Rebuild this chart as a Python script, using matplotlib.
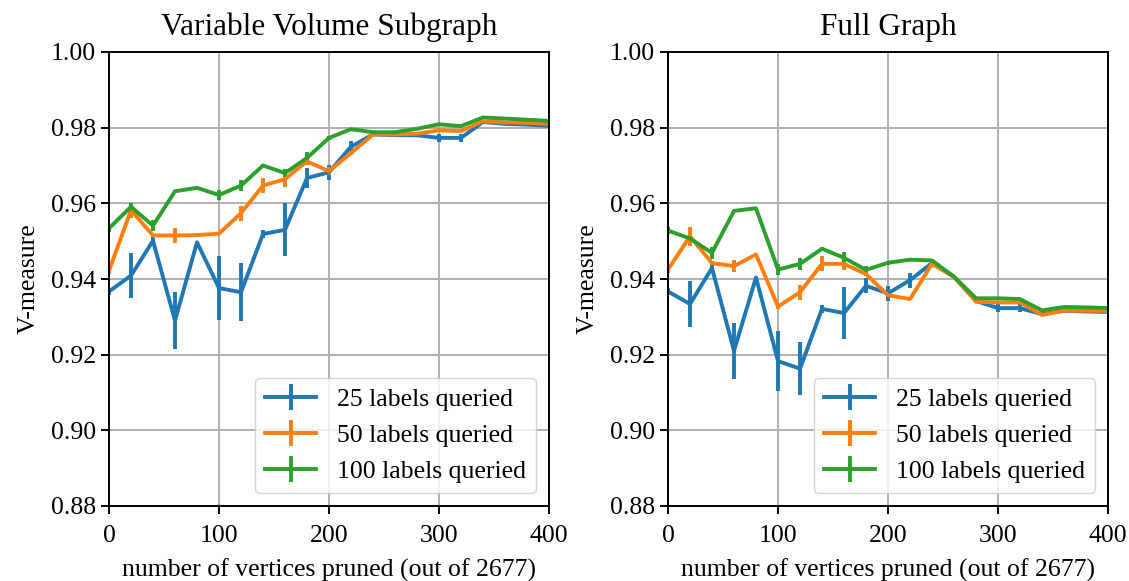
import matplotlib
matplotlib.use("Agg")
import matplotlib.pyplot as plt
import numpy as np

plt.rcParams['font.family'] = ['Liberation Serif', 'DejaVu Serif']
plt.rcParams['font.size'] = 18.5

pruned = np.arange(0, 401, 20)
labels = ['25 labels queried', '50 labels queried', '100 labels queried']

# Variable Volume Subgraph
vv_25 = [0.9367, 0.9409, 0.9501, 0.9290, 0.9497, 0.9376, 0.9365, 0.9519, 0.9530, 0.9667,
         0.9682, 0.9750, 0.9782, 0.9780, 0.9780, 0.9773, 0.9773, 0.9815, 0.9810, 0.9808, 0.9805]
vv_25_err = [0.001, 0.006, 0.001, 0.0075, 0.0, 0.0085, 0.0076, 0.001, 0.007, 0.0027,
             0.002, 0.0015, 0.0005, 0.0003, 0.0003, 0.001, 0.001, 0.0005, 0.0, 0.0, 0.0]
vv_50 = [0.9422, 0.9582, 0.9515, 0.9515, 0.9516, 0.9520, 0.9574, 0.9647, 0.9664, 0.9711,
         0.9685, 0.9733, 0.9782, 0.9782, 0.9784, 0.9793, 0.9791, 0.9817, 0.9814, 0.9813, 0.9810]
vv_50_err = [0.001, 0.002, 0.0005, 0.002, 0.0, 0.0, 0.002, 0.002, 0.002, 0.001,
             0.001, 0.0005, 0.0003, 0.0, 0.0, 0.0005, 0.0005, 0.0003, 0.0, 0.0, 0.0]
vv_100 = [0.9534, 0.9591, 0.9541, 0.9632, 0.9641, 0.9622, 0.9647, 0.9700, 0.9680, 0.9720,
          0.9773, 0.9796, 0.9788, 0.9788, 0.9797, 0.9809, 0.9804, 0.9827, 0.9824, 0.9821, 0.9818]
vv_100_err = [0.001, 0.001, 0.0015, 0.0, 0.0, 0.0012, 0.0015, 0.0005, 0.001, 0.0015,
              0.0005, 0.0003, 0.0, 0.0, 0.0, 0.0003, 0.0003, 0.0003, 0.0, 0.0, 0.0]

# Full Graph
fg_25 = [0.9367, 0.9334, 0.9429, 0.9210, 0.9404, 0.9183, 0.9163, 0.9321, 0.9310, 0.9382,
         0.9362, 0.9397, 0.9442, 0.9406, 0.9342, 0.9323, 0.9323, 0.9307, 0.9316, 0.9314, 0.9313]
fg_25_err = [0.001, 0.006, 0.001, 0.0075, 0.0, 0.008, 0.007, 0.001, 0.0068, 0.002,
             0.002, 0.002, 0.0005, 0.0, 0.0005, 0.001, 0.001, 0.0005, 0.0, 0.0, 0.0]
fg_50 = [0.9425, 0.9513, 0.9442, 0.9434, 0.9465, 0.9327, 0.9365, 0.9440, 0.9440, 0.9413,
         0.9357, 0.9347, 0.9440, 0.9406, 0.9340, 0.9338, 0.9338, 0.9305, 0.9316, 0.9316, 0.9316]
fg_50_err = [0.001, 0.0025, 0.0005, 0.0015, 0.0, 0.0005, 0.002, 0.002, 0.0015, 0.0005,
             0.0005, 0.0, 0.0, 0.0, 0.0, 0.0003, 0.0003, 0.0003, 0.0, 0.0, 0.0]
fg_100 = [0.9528, 0.9507, 0.9469, 0.9580, 0.9587, 0.9425, 0.9440, 0.9480, 0.9456, 0.9424,
          0.9443, 0.9451, 0.9449, 0.9406, 0.9349, 0.9349, 0.9347, 0.9317, 0.9326, 0.9325, 0.9323]
fg_100_err = [0.001, 0.0005, 0.0015, 0.0, 0.0, 0.0015, 0.0015, 0.0005, 0.0015, 0.001,
              0.0005, 0.0, 0.0, 0.0, 0.0, 0.0, 0.0, 0.0, 0.0, 0.0, 0.0]

panels = [
    ('Variable Volume Subgraph', [(vv_25, vv_25_err), (vv_50, vv_50_err), (vv_100, vv_100_err)]),
    ('Full Graph', [(fg_25, fg_25_err), (fg_50, fg_50_err), (fg_100, fg_100_err)]),
]
colors = ['#1f77b4', '#ff7f0e', '#2ca02c']

fig = plt.figure(figsize=(11.29, 5.81), dpi=100)
lefts = [109 / 1129, 668 / 1129]
w = 440 / 1129
bottom = 1 - 506 / 581
h = 454 / 581

for left, (title, series) in zip(lefts, panels):
    ax = fig.add_axes([left, bottom, w, h])
    for (vals, errs), lab, c in zip(series, labels, colors):
        ax.errorbar(pruned, vals, yerr=errs, color=c, lw=2.8, elinewidth=2.8, label=lab)
    ax.set_xlim(0, 400)
    ax.set_ylim(0.88, 1.00)
    ax.set_xticks([0, 100, 200, 300, 400])
    ax.set_yticks(np.arange(0.88, 1.001, 0.02))
    ax.yaxis.set_major_formatter(matplotlib.ticker.FormatStrFormatter('%.2f'))
    ax.grid(True, color='#b0b0b0', lw=1.4)
    ax.set_axisbelow(True)
    ax.set_title(title, fontsize=22.5, pad=12)
    ax.set_xlabel('number of vertices pruned (out of 2677)', labelpad=8)
    ax.set_ylabel('V-measure', labelpad=8)
    ax.tick_params(width=1.4, length=6)
    ax.tick_params(axis='x', pad=8)
    for s in ax.spines.values():
        s.set_linewidth(1.4)
    ax.legend(loc='lower right', fontsize=18.5)

fig.savefig('out.png', dpi=100)
